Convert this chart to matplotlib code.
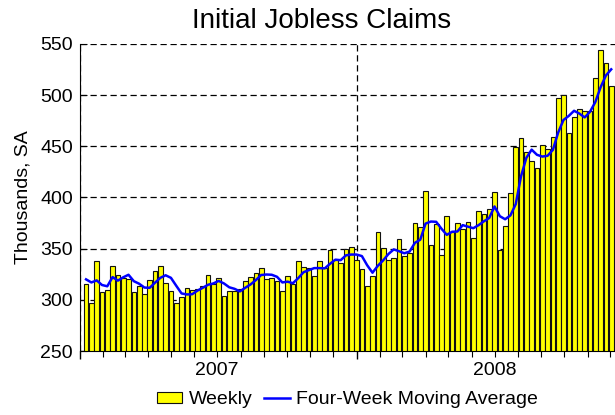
import pandas as pd
import matplotlib.pyplot as plt
import matplotlib.dates as mdates
from matplotlib.ticker import FuncFormatter

plt.rcParams["font.family"] = ["Liberation Sans", "DejaVu Sans"]

#----------
## Data: initial jobless claims, thousands SA (weeks ending Jan 6 2007 .. Nov 29 2008)
#----------

weekly = [
    315, 297, 338, 308, 310, 333, 324, 321, 320, 308,
    314, 306, 319, 328, 333, 316, 309, 297, 303, 312,
    310, 311, 314, 324, 315, 321, 304, 309, 309, 311,
    318, 322, 326, 331, 320, 321, 318, 309, 323, 315,
    338, 332, 331, 323, 338, 331, 349, 339, 336, 350,
    352, 339, 330, 314, 323, 366, 351, 339, 341, 359,
    343, 346, 375, 371, 406, 354, 374, 344, 382, 366,
    375, 369, 376, 360, 387, 384, 389, 405, 349, 372,
    404, 449, 458, 444, 436, 429, 451, 447, 459, 497,
    500, 463, 479, 486, 485, 485, 517, 544, 531, 509,
]
# last three weeks of Dec 2006, only needed to start the moving average
prior_weeks = [309, 330, 326]

first_week = "2007-01-06"
y_ticks = [250, 300, 350, 400, 450, 500, 550]

weeks = pd.date_range(first_week, periods = len(weekly), freq = "7D")
ma = pd.Series(prior_weeks + weekly).rolling(4).mean().iloc[len(prior_weeks):].to_numpy()

#----------
## Figure
#----------

fig = plt.figure(figsize = (6.15, 4.15), dpi = 100)
ax = fig.add_axes([80 / 615, 1 - 351 / 415, 535 / 615, 307 / 415])

bars = ax.bar(weeks, weekly, width = 6.2, align = "edge",
              color = "#ffff00", edgecolor = "#111111", linewidth = 0.8,
              zorder = 2, label = "Weekly")
line, = ax.plot(weeks + pd.Timedelta(days = 3), ma, color = "#0000ff",
                linewidth = 1.8, zorder = 3, label = "Four-Week Moving Average")

ax.set_ylim(250, 550)
ax.set_yticks(y_ticks)
ax.set_xlim(pd.Timestamp("2007-01-01"), pd.Timestamp("2008-12-07"))

# year ticks carry the vertical grid, month ticks carry the year labels in July
ax.xaxis.set_major_locator(mdates.YearLocator())
ax.xaxis.set_major_formatter(FuncFormatter(lambda v, p: ""))
ax.xaxis.set_minor_locator(mdates.MonthLocator())
ax.xaxis.set_minor_formatter(FuncFormatter(
    lambda v, p: str(mdates.num2date(v).year) if mdates.num2date(v).month == 7 else ""))

ax.tick_params(axis = "x", which = "major", length = 6, direction = "out", width = 1)
ax.tick_params(axis = "x", which = "minor", length = 4, direction = "out", width = 0.8,
               labelsize = 14, pad = 4)
ax.tick_params(axis = "y", length = 5, direction = "in", labelsize = 14, pad = 5)

ax.grid(True, axis = "y", color = "black", linestyle = (0, (5, 3)), linewidth = 0.9, zorder = 0)
ax.grid(True, axis = "x", which = "major", color = "black", linestyle = (0, (5, 3)),
        linewidth = 0.9, zorder = 0)
ax.set_axisbelow(True)

for side in ["top", "right"]:
    ax.spines[side].set_visible(False)

ax.set_ylabel("Thousands, SA", fontsize = 14, labelpad = 6)
fig.text(322 / 615, 1 - 21 / 415, "Initial Jobless Claims", fontsize = 20,
         ha = "center", va = "center")

ax.legend(handles = [bars, line], loc = "upper center", bbox_to_anchor = (0.5, -0.105),
          ncol = 2, frameon = False, fontsize = 14, handlelength = 1.3, handleheight = 0.5,
          handletextpad = 0.35, columnspacing = 0.6, borderaxespad = 0)

fig.savefig("out.png", dpi = 100)
